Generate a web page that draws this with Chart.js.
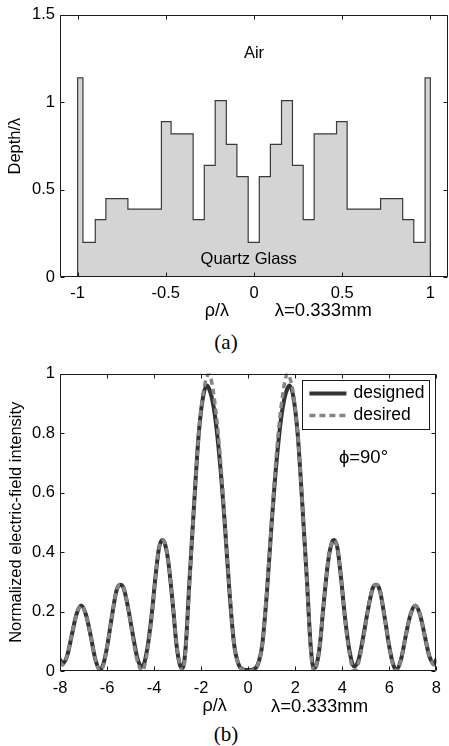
<!DOCTYPE html>
<html>
<head>
<meta charset="utf-8">
<title>Surface relief and field intensity</title>
<script src="https://cdn.jsdelivr.net/npm/chart.js@4.4.1/dist/chart.umd.min.js"></script>
<style>
  html, body { margin: 0; padding: 0; background: #fff; }
  #page { position: relative; width: 449px; height: 746px; overflow: hidden; }
  canvas { position: absolute; left: 0; }
  #chart-a { top: 0; }
  #chart-b { top: 355px; }
  .caption {
    position: absolute; left: 196px; width: 60px; text-align: center;
    font-family: 'Liberation Serif', 'Times New Roman', serif; font-size: 21px; color: #000;
  }
</style>
</head>
<body>
<div id="page">
  <canvas id="chart-a" width="449" height="320" style="width:449px;height:320px"></canvas>
  <div class="caption" style="top:330px">(a)</div>
  <canvas id="chart-b" width="449" height="365" style="width:449px;height:365px"></canvas>
  <div class="caption" style="top:722px">(b)</div>
</div>
<script>
/* ---------- Data ---------- */

// (a) relief profile: zone edges (rho/lambda) and depth/lambda of each zone
const zoneEdges = [-1, -0.97, -0.90, -0.84, -0.715, -0.525, -0.47, -0.345, -0.282, -0.22, -0.157, -0.097, -0.033,
  0.03, 0.093, 0.156, 0.218, 0.279, 0.341, 0.468, 0.528, 0.718, 0.843, 0.906, 0.97, 1];
const zoneDepth = [1.14, 0.2, 0.33, 0.45, 0.39, 0.89, 0.82, 0.33, 0.64, 1.01, 0.76, 0.575, 0.2,
  0.575, 0.76, 1.01, 0.64, 0.33, 0.82, 0.89, 0.39, 0.45, 0.33, 0.2, 1.14];
const xTicksA = [-1, -0.5, 0, 0.5, 1];
const xLabelsA = ['-1', '-0.5', '0', '0.5', '1'];
const yTicksA = [0, 0.5, 1, 1.5];
const yLabelsA = ['0', '0.5', '1', '1.5'];

// (b) normalized intensity vs rho/lambda
const rhoB = [-8, -7.9, -7.7, -7.5, -7.3, -7.1, -6.9, -6.7, -6.5, -6.3, -6.15, -6, -5.8, -5.6, -5.45, -5.3,
  -5.1, -4.9, -4.7, -4.5, -4.3, -4.1, -3.95, -3.8, -3.66, -3.55, -3.4, -3.2, -3.05, -2.9, -2.78, -2.65,
  -2.5, -2.3, -2.1, -1.9, -1.75, -1.67, -1.55, -1.4, -1.2, -1, -0.8, -0.6, -0.4, -0.2,
  0,
  0.2, 0.4, 0.6, 0.8, 1, 1.2, 1.4, 1.55, 1.67, 1.75, 1.9, 2.1, 2.3, 2.5, 2.65, 2.78,
  2.9, 3.05, 3.2, 3.4, 3.55, 3.66, 3.8, 3.95, 4.1, 4.3, 4.5, 4.7, 4.9, 5.1, 5.3, 5.45,
  5.6, 5.8, 6, 6.15, 6.3, 6.5, 6.7, 6.9, 7.1, 7.3, 7.5, 7.7, 7.9, 8];
const designed = [0.04, 0.025, 0.05, 0.12, 0.19, 0.22, 0.19, 0.12, 0.04, 0.005, 0.025, 0.08, 0.18, 0.27, 0.29, 0.28,
  0.21, 0.12, 0.04, 0.015, 0.07, 0.19, 0.31, 0.41, 0.44, 0.43, 0.37, 0.22, 0.09, 0.02, 0.01, 0.09,
  0.30, 0.56, 0.80, 0.93, 0.96, 0.95, 0.92, 0.85, 0.70, 0.50, 0.27, 0.09, 0.02, 0.005,
  0.003,
  0.005, 0.02, 0.09, 0.27, 0.50, 0.70, 0.85, 0.92, 0.95, 0.96, 0.93, 0.80, 0.56, 0.30, 0.09, 0.01,
  0.02, 0.09, 0.22, 0.37, 0.43, 0.44, 0.41, 0.31, 0.19, 0.07, 0.015, 0.04, 0.12, 0.21, 0.28, 0.29,
  0.27, 0.18, 0.08, 0.025, 0.005, 0.04, 0.12, 0.19, 0.22, 0.19, 0.12, 0.05, 0.025, 0.04];
const desired = [0.03, 0.02, 0.05, 0.12, 0.19, 0.22, 0.19, 0.12, 0.04, 0, 0.02, 0.08, 0.18, 0.27, 0.29, 0.28,
  0.21, 0.11, 0.03, 0, 0.06, 0.18, 0.31, 0.41, 0.44, 0.43, 0.37, 0.22, 0.09, 0.02, 0, 0.08,
  0.29, 0.56, 0.80, 0.94, 0.99, 1.0, 0.97, 0.89, 0.73, 0.51, 0.28, 0.09, 0.02, 0.003,
  0,
  0.003, 0.02, 0.09, 0.28, 0.51, 0.73, 0.89, 0.97, 1.0, 0.99, 0.94, 0.80, 0.56, 0.29, 0.08, 0,
  0.02, 0.09, 0.22, 0.37, 0.43, 0.44, 0.41, 0.31, 0.18, 0.06, 0, 0.03, 0.11, 0.21, 0.28, 0.29,
  0.27, 0.18, 0.08, 0.02, 0, 0.04, 0.12, 0.19, 0.22, 0.19, 0.12, 0.05, 0.02, 0.03];
const xTicksB = [-8, -6, -4, -2, 0, 2, 4, 6, 8];
const xLabelsB = ['-8', '-6', '-4', '-2', '0', '2', '4', '6', '8'];
const yTicksB = [0, 0.2, 0.4, 0.6, 0.8, 1];
const yLabelsB = ['0', '0.2', '0.4', '0.6', '0.8', '1'];

/* ---------- Shared look ---------- */

const FONT = "'Liberation Sans', Arial, sans-serif";
const FONT_SIZE = 16.5;
const TICK_LEN = 4;

Chart.defaults.font.family = FONT;
Chart.defaults.font.size = FONT_SIZE;
Chart.defaults.color = '#000';

// MATLAB style box with inward ticks on all four sides
const frameTicks = {
  id: 'frameTicks',
  afterDatasetsDraw(chart) {
    const { ctx, chartArea: a, scales: { x, y } } = chart;
    const L = Math.round(a.left) + 0.5, R = Math.round(a.right) - 0.5;
    const T = Math.round(a.top) + 0.5, B = Math.round(a.bottom) - 0.5;
    ctx.save();
    ctx.strokeStyle = '#1a1a1a';
    ctx.lineWidth = 1;
    ctx.beginPath();
    ctx.rect(L, T, R - L, B - T);
    x.ticks.forEach((t) => {
      const px = Math.round(x.getPixelForValue(t.value)) + 0.5;
      ctx.moveTo(px, B); ctx.lineTo(px, B - TICK_LEN);
      ctx.moveTo(px, T); ctx.lineTo(px, T + TICK_LEN);
    });
    y.ticks.forEach((t) => {
      const py = Math.round(y.getPixelForValue(t.value)) + 0.5;
      ctx.moveTo(L, py); ctx.lineTo(L + TICK_LEN, py);
      ctx.moveTo(R, py); ctx.lineTo(R - TICK_LEN, py);
    });
    ctx.stroke();
    ctx.restore();
  },
};

// Free text placed in data coordinates (or below the plot for the x title)
function notesPlugin(items) {
  return {
    id: 'notes',
    afterDraw(chart) {
      const { ctx, chartArea: a, scales: { x, y } } = chart;
      ctx.save();
      ctx.fillStyle = '#000';
      ctx.textBaseline = 'middle';
      items.forEach((n) => {
        ctx.font = `${n.size || FONT_SIZE}px ${FONT}`;
        ctx.textAlign = n.align || 'center';
        const px = x.getPixelForValue(n.x);
        const py = n.below != null ? a.bottom + n.below : y.getPixelForValue(n.y);
        ctx.fillText(n.text, px, py);
      });
      ctx.restore();
    },
  };
}

// Boxed legend inside the plot, upper right
const boxLegend = {
  id: 'boxLegend',
  afterDraw(chart) {
    const { ctx, chartArea: a } = chart;
    const left = a.right - 134, top = a.top + 6, w = 127, h = 49;
    ctx.save();
    ctx.fillStyle = '#fff';
    ctx.fillRect(left, top, w, h);
    ctx.strokeStyle = '#1a1a1a';
    ctx.lineWidth = 1;
    ctx.strokeRect(Math.round(left) + 0.5, Math.round(top) + 0.5, w, h);
    const order = [chart.data.datasets[1], chart.data.datasets[0]];
    order.forEach((ds, i) => {
      const cy = top + 14 + i * 22;
      ctx.beginPath();
      ctx.strokeStyle = ds.borderColor;
      ctx.lineWidth = ds.borderWidth;
      ctx.setLineDash(ds.borderDash || []);
      ctx.moveTo(left + 7, cy);
      ctx.lineTo(left + 44, cy);
      ctx.stroke();
      ctx.setLineDash([]);
      ctx.fillStyle = '#000';
      ctx.font = `17.5px ${FONT}`;
      ctx.textBaseline = 'middle';
      ctx.textAlign = 'left';
      ctx.fillText(ds.label, left + 51, cy);
    });
    ctx.restore();
  },
};

function fixedTicks(values) {
  return { afterBuildTicks: (s) => { s.ticks = values.map((v) => ({ value: v })); } };
}

/* ---------- (a) relief profile ---------- */

const profilePts = [{ x: zoneEdges[0], y: 0 }];
zoneDepth.forEach((d, i) => profilePts.push({ x: zoneEdges[i], y: d }));
profilePts.push({ x: zoneEdges[zoneEdges.length - 1], y: zoneDepth[zoneDepth.length - 1] });
profilePts.push({ x: zoneEdges[zoneEdges.length - 1], y: 0 });

new Chart(document.getElementById('chart-a'), {
  type: 'line',
  data: {
    datasets: [{
      data: profilePts,
      stepped: 'before',
      borderColor: '#3a3a3a',
      borderWidth: 1.2,
      backgroundColor: '#d4d4d4',
      fill: 'origin',
      pointRadius: 0,
    }],
  },
  options: {
    responsive: false,
    animation: false,
    devicePixelRatio: 1,
    layout: { padding: { top: 13.5, right: 1, bottom: 0, left: 0 } },
    plugins: { legend: { display: false }, tooltip: { enabled: false } },
    scales: {
      x: {
        type: 'linear', min: -1.1, max: 1.1,
        ...fixedTicks(xTicksA),
        afterFit: (s) => { s.height = 42.7; },
        grid: { display: false, drawTicks: false },
        border: { display: false },
        ticks: { callback: (v) => xLabelsA[xTicksA.indexOf(v)], padding: 6, maxRotation: 0 },
      },
      y: {
        type: 'linear', min: 0, max: 1.5,
        ...fixedTicks(yTicksA),
        afterFit: (s) => { s.width = 60; },
        grid: { display: false, drawTicks: false },
        border: { display: false },
        ticks: { callback: (v) => yLabelsA[yTicksA.indexOf(v)], padding: 5 },
        title: { display: true, text: 'Depth/λ', padding: { top: 6, bottom: 0 } },
      },
    },
  },
  plugins: [frameTicks, notesPlugin([
    { text: 'Air', x: 0, y: 1.28 },
    { text: 'Quartz Glass', x: -0.03, y: 0.1 },
    { text: 'ρ/λ', x: -0.21, below: 34, size: 18 },
    { text: 'λ=0.333mm', x: 0.118, below: 34, align: 'left', size: 18.5 },
  ])],
});

/* ---------- (b) field intensity ---------- */

new Chart(document.getElementById('chart-b'), {
  type: 'line',
  data: {
    datasets: [
      {
        label: 'desired',
        data: rhoB.map((x, i) => ({ x, y: desired[i] })),
        borderColor: '#858585',
        borderWidth: 3.5,
        borderDash: [6, 4],
        cubicInterpolationMode: 'monotone',
        pointRadius: 0,
        order: 1,
      },
      {
        label: 'designed',
        data: rhoB.map((x, i) => ({ x, y: designed[i] })),
        borderColor: '#333333',
        borderWidth: 4,
        cubicInterpolationMode: 'monotone',
        pointRadius: 0,
        order: 2,
      },
    ],
  },
  options: {
    responsive: false,
    animation: false,
    devicePixelRatio: 1,
    layout: { padding: { top: 18.5, right: 5.7, bottom: 0, left: 0 } },
    plugins: { legend: { display: false }, tooltip: { enabled: false } },
    scales: {
      x: {
        type: 'linear', min: -8, max: 8,
        ...fixedTicks(xTicksB),
        afterFit: (s) => { s.height = 49; },
        grid: { display: false, drawTicks: false },
        border: { display: false },
        ticks: { callback: (v) => xLabelsB[xTicksB.indexOf(v)], padding: 8, maxRotation: 0 },
      },
      y: {
        type: 'linear', min: 0, max: 1,
        ...fixedTicks(yTicksB),
        afterFit: (s) => { s.width = 60; },
        grid: { display: false, drawTicks: false },
        border: { display: false },
        ticks: { callback: (v) => yLabelsB[yTicksB.indexOf(v)], padding: 5 },
        title: { display: true, text: 'Normalized electric-field intensity', padding: { top: 7, bottom: 0 } },
      },
    },
  },
  plugins: [frameTicks, boxLegend, notesPlugin([
    { text: 'ϕ=90°', x: 4.9, y: 0.716, size: 18.5 },
    { text: 'ρ/λ', x: -1.43, below: 35.5, size: 18 },
    { text: 'λ=0.333mm', x: 0.97, below: 35.5, align: 'left', size: 18.5 },
  ])],
});
</script>
</body>
</html>
